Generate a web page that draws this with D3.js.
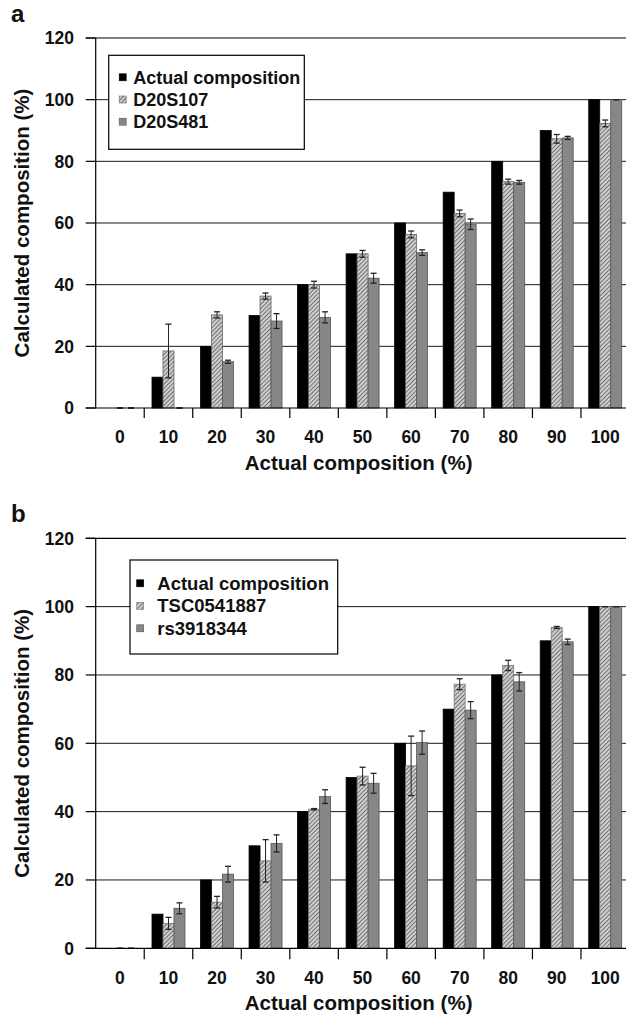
<!DOCTYPE html>
<html>
<head>
<meta charset="utf-8">
<script src="https://cdn.jsdelivr.net/npm/d3@7"></script>
<style>
  body { margin: 0; background: #fff; }
  svg { display: block; }
  text { font-family: "Liberation Sans", Arial, Helvetica, sans-serif; font-weight: bold; fill: #111; }
</style>
</head>
<body>
<div id="chart"></div>
<script>
// Categories (actual composition, %)
const categories = [0, 10, 20, 30, 40, 50, 60, 70, 80, 90, 100];
const yTicks = [0, 20, 40, 60, 80, 100, 120];
const actualComposition = [0, 10, 20, 30, 40, 50, 60, 70, 80, 90, 100];

// Panel a
const d20s107 = [0, 18.5, 30.2, 36.3, 40, 50, 56.3, 63.1, 73.4, 87.3, 92.3];
const d20s107Err = [0, 8.7, 1.0, 1.0, 1.1, 1.1, 1.1, 1.1, 0.8, 1.4, 1.1];
const d20s481 = [0, 0, 15.0, 28.2, 29.4, 42.1, 50.4, 59.6, 73.2, 87.6, 100];
const d20s481Err = [0, 0, 0.5, 2.4, 1.8, 1.6, 0.9, 1.7, 0.6, 0.5, 0];

// Panel b
const tsc0541887 = [0, 7.3, 13.5, 25.6, 40.7, 50.4, 53.4, 77.3, 82.8, 93.9, 100];
const tsc0541887Err = [0, 1.75, 1.7, 6.2, 0.2, 2.6, 8.7, 1.6, 1.5, 0.3, 0];
const rs3918344 = [0, 11.7, 21.7, 30.7, 44.4, 48.3, 60.2, 69.7, 78.0, 89.7, 100];
const rs3918344Err = [0, 1.6, 2.3, 2.5, 2.0, 2.9, 3.4, 2.5, 2.7, 0.8, 0];

const width = 626;
const height = 1020;
const plotLeft = 95.7;
const plotRight = 629.5;

const svg = d3.select('#chart')
    .append('svg')
    .attr('width', width)
    .attr('height', height);

// Hatch fill for the middle series
const defs = svg.append('defs');
const hatch = defs.append('pattern')
    .attr('id', 'hatch')
    .attr('patternUnits', 'userSpaceOnUse')
    .attr('width', 3)
    .attr('height', 3)
    .attr('patternTransform', 'rotate(45)');
hatch.append('rect').attr('width', 3).attr('height', 3).attr('fill', '#d2d2d2');
hatch.append('line')
    .attr('x1', 0.5).attr('y1', 0).attr('x2', 0.5).attr('y2', 3)
    .attr('stroke', '#727272').attr('stroke-width', 1.1);

function drawPanel(cfg) {
    const g = svg.append('g');

    const y = d3.scaleLinear().domain([0, 120]).range([cfg.bottom, cfg.top]);
    const x = d3.scaleBand()
        .domain(categories)
        .range([plotLeft, plotRight])
        .paddingInner(0.32)
        .paddingOuter(0.16);
    const xs = d3.scaleBand()
        .domain(cfg.series.map(s => s.name))
        .range([0, x.bandwidth()]);

    // Gridlines
    g.selectAll('.grid')
        .data(yTicks.filter(t => t > 0 && t < 120))
        .enter()
        .append('line')
        .attr('x1', plotLeft).attr('x2', width)
        .attr('y1', d => y(d)).attr('y2', d => y(d))
        .attr('stroke', '#1a1a1a').attr('stroke-width', 1);

    // Top frame line
    g.append('line')
        .attr('x1', plotLeft - 10).attr('x2', width)
        .attr('y1', y(120)).attr('y2', y(120))
        .attr('stroke', '#000').attr('stroke-width', 1.2);

    // Legend box (drawn before bars, covers the 100 gridline)
    const lg = g.append('g').attr('transform', `translate(${cfg.legend.x},${cfg.legend.y})`);
    lg.append('rect')
        .attr('width', cfg.legend.w).attr('height', cfg.legend.h)
        .attr('fill', '#fff').attr('stroke', '#000').attr('stroke-width', 1.2);
    cfg.series.forEach((s, i) => {
        const cy = cfg.legend.firstRow + i * cfg.legend.rowGap;
        lg.append('rect')
            .attr('x', cfg.legend.swatchX).attr('y', cy - 3.5)
            .attr('width', 7).attr('height', 7)
            .attr('fill', s.fill).attr('stroke', s.stroke).attr('stroke-width', 0.6);
        lg.append('text')
            .attr('x', cfg.legend.textX).attr('y', cy)
            .attr('dy', '0.36em')
            .style('font-size', cfg.legend.fontSize + 'px')
            .text(s.name);
    });

    // Bars
    cfg.series.forEach(s => {
        const data = categories.map((c, i) => ({ c, v: s.values[i], e: s.errors ? s.errors[i] : null }));
        g.selectAll(null)
            .data(data)
            .enter()
            .append('rect')
            .attr('x', d => x(d.c) + xs(s.name))
            .attr('y', d => y(d.v))
            .attr('width', xs.bandwidth())
            .attr('height', d => y(0) - y(d.v))
            .attr('fill', s.fill)
            .attr('stroke', s.stroke)
            .attr('stroke-width', 0.8);

        if (s.errors) {
            const eb = g.selectAll(null)
                .data(data)
                .enter()
                .append('g')
                .attr('transform', d => `translate(${x(d.c) + xs(s.name) + xs.bandwidth() / 2},0)`);
            eb.append('line')
                .attr('x1', 0).attr('x2', 0)
                .attr('y1', d => y(d.v - d.e)).attr('y2', d => y(d.v + d.e))
                .attr('stroke', '#222').attr('stroke-width', 1);
            eb.append('line')
                .attr('x1', -3).attr('x2', 3)
                .attr('y1', d => y(d.v + d.e)).attr('y2', d => y(d.v + d.e))
                .attr('stroke', '#222').attr('stroke-width', 1.3);
            eb.append('line')
                .attr('x1', -3).attr('x2', 3)
                .attr('y1', d => y(d.v - d.e)).attr('y2', d => y(d.v - d.e))
                .attr('stroke', '#222').attr('stroke-width', 1.3);
        }
    });

    // Y axis line and ticks
    g.append('line')
        .attr('x1', plotLeft).attr('x2', plotLeft)
        .attr('y1', y(120)).attr('y2', y(0))
        .attr('stroke', '#000').attr('stroke-width', 1.2);
    g.selectAll('.ytick')
        .data(yTicks)
        .enter()
        .append('line')
        .attr('x1', plotLeft - 10).attr('x2', plotLeft)
        .attr('y1', d => y(d)).attr('y2', d => y(d))
        .attr('stroke', '#000').attr('stroke-width', 1.2);
    g.selectAll('.ylab')
        .data(yTicks)
        .enter()
        .append('text')
        .attr('x', 74)
        .attr('y', d => y(d))
        .attr('dy', '0.36em')
        .attr('text-anchor', 'end')
        .style('font-size', '17.5px')
        .text(d => d);

    // X axis line and ticks between categories
    g.append('line')
        .attr('x1', plotLeft - 10).attr('x2', width)
        .attr('y1', y(0)).attr('y2', y(0))
        .attr('stroke', '#000').attr('stroke-width', 1.2);
    const gapHalf = x.step() * x.paddingInner() / 2;
    g.selectAll('.xtick')
        .data(categories.slice(1))
        .enter()
        .append('line')
        .attr('x1', d => x(d) - gapHalf).attr('x2', d => x(d) - gapHalf)
        .attr('y1', y(0)).attr('y2', y(0) + cfg.tickLen)
        .attr('stroke', '#000').attr('stroke-width', 1.2);
    g.selectAll('.xlab')
        .data(categories)
        .enter()
        .append('text')
        .attr('x', d => x(d) + x.bandwidth() / 2)
        .attr('y', y(0) + cfg.labelOffset)
        .attr('dy', '0.36em')
        .attr('text-anchor', 'middle')
        .style('font-size', '17.5px')
        .text(d => d);

    // Axis titles
    g.append('text')
        .attr('x', (plotLeft + plotRight) / 2 - 4)
        .attr('y', y(0) + cfg.titleOffset)
        .attr('dy', '0.36em')
        .attr('text-anchor', 'middle')
        .style('font-size', '20.5px')
        .text('Actual composition (%)');
    g.append('text')
        .attr('transform', `translate(22,${(y(0) + y(120)) / 2}) rotate(-90)`)
        .attr('dy', '0.36em')
        .attr('text-anchor', 'middle')
        .style('font-size', '20.5px')
        .text('Calculated composition (%)');

    // Panel letter
    g.append('text')
        .attr('x', 11)
        .attr('y', cfg.letterY)
        .style('font-size', '24px')
        .text(cfg.letter);
}

drawPanel({
    letter: 'a', letterY: 22,
    top: 38, bottom: 408,
    tickLen: 10, labelOffset: 29, titleOffset: 55,
    legend: { x: 108.7, y: 55.3, w: 195.6, h: 94, firstRow: 22, rowGap: 22.2, swatchX: 10.5, textX: 24.5, fontSize: 18 },
    series: [
        { name: 'Actual composition', values: actualComposition, errors: null, fill: '#000', stroke: '#000' },
        { name: 'D20S107', values: d20s107, errors: d20s107Err, fill: 'url(#hatch)', stroke: '#666' },
        { name: 'D20S481', values: d20s481, errors: d20s481Err, fill: '#878787', stroke: '#555' }
    ]
});

drawPanel({
    letter: 'b', letterY: 522,
    top: 538.3, bottom: 948.3,
    tickLen: 11, labelOffset: 29, titleOffset: 54,
    legend: { x: 130, y: 560, w: 207.7, h: 94, firstRow: 23.3, rowGap: 22.5, swatchX: 6.7, textX: 27.3, fontSize: 18.5 },
    series: [
        { name: 'Actual composition', values: actualComposition, errors: null, fill: '#000', stroke: '#000' },
        { name: 'TSC0541887', values: tsc0541887, errors: tsc0541887Err, fill: 'url(#hatch)', stroke: '#777' },
        { name: 'rs3918344', values: rs3918344, errors: rs3918344Err, fill: '#878787', stroke: '#555' }
    ]
});
</script>
</body>
</html>
